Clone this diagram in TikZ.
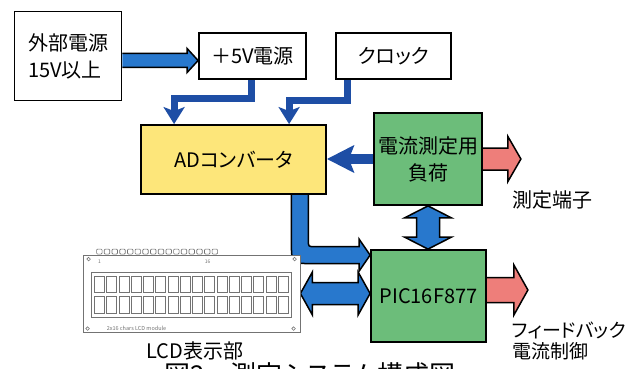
\documentclass[tikz,border=0pt]{standalone}
\usepackage{fontspec}
\setmainfont{Noto Sans CJK JP}[RawFeature=+palt]
\usetikzlibrary{calc,arrows.meta}
\pgfdeclarelayer{back}
\pgfsetlayers{back,main}

\definecolor{adyellow}{RGB}{253,230,122}
\definecolor{pcbgreen}{RGB}{108,189,122}
\definecolor{fatblue}{RGB}{40,120,205}
\definecolor{wireblue}{RGB}{30,78,165}
\definecolor{salmon}{RGB}{238,126,122}
\definecolor{lcdgray}{RGB}{115,115,115}

\tikzset{
  blk/.style={draw=black, line width=1.8pt, inner sep=0pt, align=center,
    font=\fontsize{20}{27}\selectfont},
  fatarrow/.style={draw=black, line width=1.5pt, line join=miter, fill=#1},
  wire/.style={draw=wireblue, line width=7pt,
    -{Stealth[length=17pt,width=21pt,inset=4pt]}},
  label/.style={inner sep=0pt, font=\fontsize{20}{24}\selectfont},
  lcdline/.style={draw=lcdgray, line width=0.8pt},
}

% rightward block arrow: fill, start, tip, shaft half, head half, head length
\newcommand\fatR[6]{%
  \draw[fatarrow=#1] ($(#2)+(0,-#4)$) -- ($(#3)+(-#6,-#4)$) -- ($(#3)+(-#6,-#5)$)
    -- (#3) -- ($(#3)+(-#6,#5)$) -- ($(#3)+(-#6,#4)$) -- ($(#2)+(0,#4)$);}
% horizontal two-headed block arrow: fill, left tip, right tip, shaft half, head half, head length
\newcommand\fatDh[6]{%
  \draw[fatarrow=#1] (#2) -- ($(#2)+(#6,-#5)$) -- ($(#2)+(#6,-#4)$) -- ($(#3)+(-#6,-#4)$)
    -- ($(#3)+(-#6,-#5)$) -- (#3) -- ($(#3)+(-#6,#5)$) -- ($(#3)+(-#6,#4)$)
    -- ($(#2)+(#6,#4)$) -- ($(#2)+(#6,#5)$) -- cycle;}
% vertical two-headed block arrow: fill, top tip, bottom tip, shaft half, head half, head length
\newcommand\fatDv[6]{%
  \draw[fatarrow=#1] (#2) -- ($(#2)+(-#5,#6)$) -- ($(#2)+(-#4,#6)$) -- ($(#3)+(-#4,-#6)$)
    -- ($(#3)+(-#5,-#6)$) -- (#3) -- ($(#3)+(#5,-#6)$) -- ($(#3)+(#4,-#6)$)
    -- ($(#2)+(#4,#6)$) -- ($(#2)+(#5,#6)$) -- cycle;}

\begin{document}
\begin{tikzpicture}[x=1pt,y=-1pt]
\useasboundingbox (0,0) rectangle (637,369);
\clip (0,0) rectangle (637,369);

% blocks
\node[blk, align=left, minimum width=107pt, minimum height=89pt] (ext) at (68,56) {外部電源\\15V以上};
\node[blk, fill=white, minimum width=107pt, minimum height=46pt] (p5) at (252.5,56) {＋5V電源};
\node[blk, fill=white, minimum width=115pt, minimum height=46pt] (clk) at (393.5,56) {クロック};
\node[blk, fill=adyellow, minimum width=185pt, minimum height=69pt] (ad) at (233.5,159.5) {ADコンバータ};
\node[blk, fill=pcbgreen, minimum width=108pt, minimum height=92pt] (load) at (428,159) {電流測定用\\負荷};
\node[blk, fill=pcbgreen, minimum width=115pt, minimum height=92pt] (pic) at (428.5,296) {PIC16F877};

% LCD module board
\node[lcdline, fill=white, inner sep=0pt, minimum width=217pt, minimum height=77pt] (lcd) at (191.5,293.5) {};
\begin{scope}[shift={(lcd.north west)}]
  % pin header
  \foreach \i in {0,...,15}
    \draw[lcdline, line width=0.7pt, rounded corners=1pt] ({14+\i*7.7},-5.5) rectangle ({19.5+\i*7.7},-0.5);
  % mounting holes
  \foreach \p in {(6,4.5),(212,4.5),(5,74),(211,74)}
    \draw[lcdline, line width=0.6pt] \p circle (1.8);
  \node[inner sep=0pt, font=\fontsize{5}{5}\selectfont, text=lcdgray] (pin1) at (17,7.5) {1};
  \node[inner sep=0pt, font=\fontsize{5}{5}\selectfont, text=lcdgray] (pin16) at (125,7.5) {16};
  % display window and character cells
  \draw[lcdline] (9,17.5) rectangle (209,63);
  \foreach \i in {0,...,15} {
    \draw[lcdline, line width=1pt] ({12+\i*12.25},21.5) rectangle ({22+\i*12.25},38);
    \draw[lcdline, line width=1pt] ({12+\i*12.25},42) rectangle ({22+\i*12.25},58.5);
  }
  \node[inner sep=0pt, anchor=west, font=\fontsize{5.5}{6}\selectfont, text=lcdgray] (lcdname) at (24,74) {2x16 chars LCD module};
\end{scope}

% connectors
\begin{pgfonlayer}{back}
  \coordinate (a1s) at ($(ext.east)+(0,4.5)$);
  \coordinate (a1t) at ($(p5.west)+(0,4.5)$);
  \fatR{fatblue}{a1s}{a1t}{7}{12}{11}

  \draw[wire] ($(p5.south)+(-1.5,0)$) |- ($(ad.north west)+(34,-26)$) -- ($(ad.north west)+(34,0)$);
  \draw[wire] ($(clk.south)+(-46.5,0)$) |- ($(ad.north west)+(149,-24)$) -- ($(ad.north west)+(149,0)$);
  \draw[wire, line width=10pt, -{Stealth[length=27pt,width=27pt,inset=5pt]}] (load.west) -- (load.west -| ad.east);

  \coordinate (r1t) at ($(load.east)+(38,0)$);
  \fatR{salmon}{load.east}{r1t}{11}{22.5}{13}
  \coordinate (r2s) at ($(pic.east)+(0,-6)$);
  \coordinate (r2t) at ($(pic.east)+(41,-6)$);
  \fatR{salmon}{r2s}{r2t}{12.5}{25}{14}

  \coordinate (vb) at (load.south |- pic.north);
  \fatDv{fatblue}{load.south}{vb}{11.5}{23.5}{12}

  \coordinate (hr) at (lcd.east -| pic.west);
  \fatDh{fatblue}{lcd.east}{hr}{11}{21.5}{12}

  % bent data bus from the converter into the controller
  \coordinate (cv) at ($(ad.south east)+(-27,0)$);
  \coordinate (ct) at ($(pic.north west)+(0,6)$);
  \coordinate (K) at (cv |- ct);
  \draw[fatarrow=fatblue] ($(cv)+(-8.5,0)$) -- ($(K)+(-8.5,-13.5)$)
    .. controls ($(K)+(-8.5,8.5)$) .. ($(K)+(13.5,8.5)$)
    -- ($(ct)+(-11,8.5)$) -- ($(ct)+(-11,16)$) -- (ct) -- ($(ct)+(-11,-16)$)
    -- ($(ct)+(-11,-8.5)$) -- ($(K)+(14.5,-8.5)$)
    .. controls ($(K)+(8.5,-8.5)$) .. ($(K)+(8.5,-14.5)$)
    -- ($(cv)+(8.5,0)$);
\end{pgfonlayer}

% free labels
\node[label, anchor=west] (term) at (512,200) {測定端子};
\node[label, anchor=west, align=left, font=\fontsize{19}{21}\selectfont] (fb) at (512,341) {フィードバック\\電流制御};
\node[label] (lcdlabel) at (195,351) {LCD表示部};
\node[inner sep=0pt, font=\fontsize{26}{30}\selectfont] (cap) at (310,375) {図2　測定システム構成図};
\end{tikzpicture}
\end{document}
